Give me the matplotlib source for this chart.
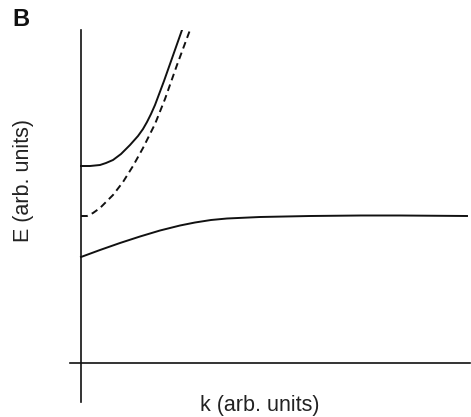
import numpy as np
import matplotlib
matplotlib.use("Agg")
import matplotlib.pyplot as plt

plt.rcParams["font.family"] = ["Liberation Sans", "DejaVu Sans"]

# upper branch (solid)
k_up = [0.0, 0.09, 0.19, 0.25, 0.32, 0.40, 0.49, 0.57, 0.62, 0.66, 0.70, 0.74, 0.77,
        0.83, 0.89, 0.95, 1.01]
E_up = [1.97, 1.97, 1.98, 2.00, 2.03, 2.09, 2.18, 2.27, 2.34, 2.41, 2.49, 2.58, 2.66,
        2.82, 2.99, 3.16, 3.33]

# uncoupled branch (dashed)
k_ph = [0.0, 0.06, 0.12, 0.19, 0.25, 0.32, 0.42, 0.52, 0.62, 0.74, 0.84, 0.96, 1.09]
E_ph = [1.47, 1.47, 1.50, 1.55, 1.61, 1.68, 1.81, 1.97, 2.15, 2.39, 2.64, 2.98, 3.33]

# lower branch (solid)
k_lo = [0.0, 0.19, 0.39, 0.59, 0.79, 0.99, 1.14, 1.30, 1.46, 1.79, 2.29, 2.80, 3.19, 3.86]
E_lo = [1.06, 1.13, 1.20, 1.265, 1.325, 1.375, 1.405, 1.43, 1.445, 1.46, 1.47, 1.475, 1.475, 1.47]

W, H = 471, 417
fig = plt.figure(figsize=[W/100, H/100], dpi=100)
ax = fig.add_axes([70/W, (H-402)/H, 400/W, 372/H])

ax.plot(k_up, E_up, "-", color="#111111", lw=1.4)
ax.plot(k_ph, E_ph, color="#111111", lw=1.4, linestyle=(0, (3.5, 2.3)))
ax.plot(k_lo, E_lo, "-", color="#111111", lw=1.4)

ax.set_xlim(-0.11, 3.89)
ax.set_ylim(-0.39, 3.33)
for s in ["top", "right"]:
    ax.spines[s].set_visible(False)
ax.spines["left"].set_position(("data", 0))
ax.spines["bottom"].set_position(("data", 0))
for s in ["left", "bottom"]:
    ax.spines[s].set_linewidth(1.2)
    ax.spines[s].set_color("#111111")
ax.set_xticks([])
ax.set_yticks([])

fig.text(23/W, 1-180/H, "E (arb. units)", rotation=90, ha="center", va="center",
         fontsize=15.5, color="#222222")
fig.text(260/W, 1-405/H, "k (arb. units)", ha="center", va="center",
         fontsize=15.5, color="#222222")
fig.text(12/W, 1-20/H, "B", ha="left", va="center", fontsize=17,
         fontweight="bold", color="#111111")

plt.savefig("out.png", dpi=100)
